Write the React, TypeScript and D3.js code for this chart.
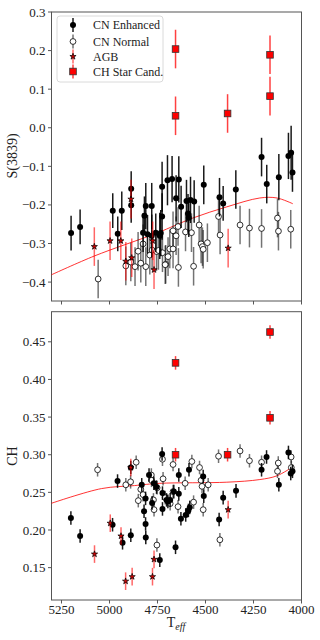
import * as d3 from "d3";

const W = 320;
const H = 640;
const FONT = "'Liberation Serif', 'DejaVu Serif', serif";

// x axis (shared)
const teffTicks = [5250, 5000, 4750, 4500, 4250, 4000];
const teffDomain = [5302, 4000];

// ---- S(3839) panel ----
const sTicks = [-0.4, -0.3, -0.2, -0.1, 0.0, 0.1, 0.2, 0.3];
const sDomain = [-0.449, 0.3];

const enhTeffS = [5200, 5153, 4983, 4936, 4957, 4887, 4887, 4818, 4811, 4780, 4825, 4802, 4780, 4759, 4738, 4726, 4698, 4726, 4733, 4674, 4639, 4653, 4627, 4599, 4578, 4559, 4587, 4591, 4509, 4427, 4408, 4342, 4208, 4181, 4118, 4068, 4054, 4047];
const enhS = [-0.273, -0.257, -0.215, -0.215, -0.275, -0.158, -0.201, -0.228, -0.203, -0.203, -0.272, -0.276, -0.28, -0.272, -0.28, -0.153, -0.136, -0.23, -0.273, -0.133, -0.134, -0.183, -0.205, -0.19, -0.187, -0.191, -0.233, -0.222, -0.148, -0.18, -0.196, -0.16, -0.076, -0.146, -0.128, -0.073, -0.065, -0.116];
const enhSErr = [0.045, 0.045, 0.045, 0.05, 0.045, 0.045, 0.045, 0.05, 0.06, 0.06, 0.05, 0.05, 0.055, 0.05, 0.06, 0.065, 0.065, 0.06, 0.06, 0.06, 0.06, 0.06, 0.055, 0.055, 0.06, 0.055, 0.05, 0.05, 0.05, 0.05, 0.045, 0.05, 0.05, 0.05, 0.06, 0.06, 0.07, 0.05];

const norTeffS = [5059, 4915, 4889, 4867, 4851, 4837, 4825, 4811, 4790, 4778, 4755, 4745, 4724, 4707, 4695, 4686, 4669, 4710, 4641, 4562, 4669, 4653, 4643, 4604, 4573, 4533, 4523, 4516, 4512, 4490, 4432, 4424, 4320, 4271, 4208, 4125, 4120, 4056];
const norS = [-0.392, -0.358, -0.348, -0.36, -0.32, -0.351, -0.301, -0.36, -0.33, -0.317, -0.321, -0.318, -0.324, -0.354, -0.334, -0.314, -0.314, -0.355, -0.362, -0.359, -0.267, -0.28, -0.256, -0.27, -0.272, -0.252, -0.301, -0.308, -0.315, -0.298, -0.23, -0.278, -0.252, -0.26, -0.261, -0.234, -0.268, -0.263];
const norSErr = 0.05;

const agbTeffS = [5079, 4997, 4941, 4915, 4884, 4888, 4775, 4768, 4382];
const agbS = [-0.308, -0.293, -0.293, -0.346, -0.337, -0.185, -0.293, -0.368, -0.312];
const agbSErr = 0.05;

const chTeffS = [4656, 4656, 4385, 4164, 4164];
const chS = [0.204, 0.031, 0.037, 0.189, 0.082];
const chSErr = 0.05;

const fitTeffS = [5302, 5077, 4790, 4738, 4566, 4389, 4217, 4128, 4045];
const fitS = [-0.381, -0.332, -0.28, -0.27, -0.234, -0.205, -0.182, -0.182, -0.197];

// ---- CH panel ----
const cTicks = [0.15, 0.2, 0.25, 0.3, 0.35, 0.4, 0.45];
const cDomain = [0.107, 0.49];

const enhTeffC = [5201, 5153, 4958, 4889, 4984, 4932, 4889, 4832, 4812, 4778, 4820, 4812, 4811, 4794, 4769, 4755, 4724, 4738, 4703, 4724, 4726, 4696, 4684, 4665, 4639, 4639, 4628, 4603, 4589, 4582, 4586, 4509, 4512, 4656, 4429, 4408, 4341, 4208, 4118, 4056, 4047, 4182, 4068];
const enhC = [0.216, 0.192, 0.265, 0.283, 0.207, 0.183, 0.193, 0.26, 0.242, 0.236, 0.225, 0.208, 0.19, 0.273, 0.262, 0.257, 0.228, 0.16, 0.24, 0.249, 0.301, 0.238, 0.24, 0.251, 0.273, 0.248, 0.215, 0.22, 0.226, 0.23, 0.28, 0.245, 0.271, 0.177, 0.214, 0.243, 0.252, 0.28, 0.26, 0.275, 0.278, 0.297, 0.303];

const norTeffC = [5062, 4915, 4890, 4861, 4837, 4825, 4850, 4782, 4781, 4771, 4768, 4753, 4752, 4724, 4710, 4721, 4669, 4643, 4684, 4606, 4562, 4571, 4531, 4523, 4518, 4512, 4486, 4425, 4432, 4320, 4271, 4208, 4125, 4121, 4053, 4054, 4669];
const norC = [0.28, 0.26, 0.264, 0.29, 0.254, 0.247, 0.239, 0.273, 0.266, 0.24, 0.227, 0.18, 0.256, 0.294, 0.243, 0.268, 0.251, 0.231, 0.235, 0.262, 0.237, 0.291, 0.283, 0.266, 0.258, 0.227, 0.26, 0.187, 0.298, 0.305, 0.292, 0.29, 0.278, 0.289, 0.283, 0.297, 0.287];

const agbTeffC = [5078, 4996, 4940, 4916, 4882, 4889, 4776, 4768, 4382];
const agbC = [0.168, 0.209, 0.192, 0.132, 0.138, 0.283, 0.138, 0.161, 0.227];

const chTeffC = [4656, 4164, 4164, 4656, 4385];
const chC = [0.422, 0.463, 0.349, 0.3, 0.3];

const cErr = 0.009;

const fitTeffC = [5302, 5042, 4870, 4738, 4389, 4217, 4128, 4045];
const fitC = [0.2355, 0.255, 0.259, 0.262, 0.2635, 0.267, 0.272, 0.284];

const legendLabels = ["CN Enhanced", "CN Normal", "AGB", "CH Star Cand."];

const x = d3.scaleLinear().domain(teffDomain).range([51.5, 301.5]);

const starPath = d3.symbol().type(d3.symbolStar).size(12)() as string;

type Kind = "enh" | "nor" | "agb" | "ch";

const barStyle: Record<Kind, { stroke: string; opacity: number }> = {
  enh: { stroke: "#000", opacity: 0.9 },
  nor: { stroke: "#000", opacity: 0.55 },
  agb: { stroke: "#ff0000", opacity: 0.6 },
  ch: { stroke: "#ff0000", opacity: 0.75 },
};

function Marker({ kind, cx, cy }: { kind: Kind; cx: number; cy: number }) {
  if (kind === "enh") return <circle cx={cx} cy={cy} r={3} fill="#000" />;
  if (kind === "nor")
    return <circle cx={cx} cy={cy} r={2.9} fill="#fff" stroke="#000" strokeWidth={0.8} />;
  if (kind === "agb")
    return <path d={starPath} transform={`translate(${cx},${cy})`} fill="#d00000" stroke="#000" strokeWidth={0.7} />;
  return <rect x={cx - 3.3} y={cy - 3.3} width={6.6} height={6.6} fill="#ff0000" stroke="#333" strokeWidth={0.8} />;
}

function Series({ kind, xs, ys, err, y }: { kind: Kind; xs: number[]; ys: number[]; err: number | number[]; y: d3.ScaleLinear<number, number> }) {
  const st = barStyle[kind];
  return (
    <g>
      {xs.map((t, i) => {
        const e = typeof err === "number" ? err : err[i];
        return (
          <line key={"b" + i} x1={x(t)} x2={x(t)} y1={y(ys[i] - e)} y2={y(ys[i] + e)} stroke={st.stroke} strokeOpacity={st.opacity} strokeWidth={1.5} />
        );
      })}
      {xs.map((t, i) => (
        <Marker key={"m" + i} kind={kind} cx={x(t)} cy={y(ys[i])} />
      ))}
    </g>
  );
}

function Axes({ y, yTicks, fmt, top, bottom, showX }: { y: d3.ScaleLinear<number, number>; yTicks: number[]; fmt: (v: number) => string; top: number; bottom: number; showX: boolean }) {
  const [x0, x1] = x.range();
  return (
    <g fontFamily={FONT} fontSize={13} fill="#222">
      <rect x={x0} y={top} width={x1 - x0} height={bottom - top} fill="none" stroke="#555" strokeWidth={1} />
      {yTicks.map((v) => (
        <g key={v}>
          <line x1={x0 - 3.5} x2={x0} y1={y(v)} y2={y(v)} stroke="#555" />
          <text x={x0 - 6} y={y(v)} dy="0.35em" textAnchor="end">
            {fmt(v)}
          </text>
        </g>
      ))}
      {teffTicks.map((t) => (
        <g key={t}>
          <line x1={x(t)} x2={x(t)} y1={bottom} y2={bottom + 3.5} stroke="#555" />
          {showX && (
            <text x={x(t)} y={bottom + 14} textAnchor="middle">
              {t}
            </text>
          )}
        </g>
      ))}
    </g>
  );
}

const fmtS = (v: number) => (v < 0 ? "\u2212" : "") + Math.abs(v).toFixed(1);
const fmtC = (v: number) => v.toFixed(2);

export default function App() {
  const yS = d3.scaleLinear().domain(sDomain).range([301, 12]);
  const yC = d3.scaleLinear().domain(cDomain).range([600, 311.7]);

  const line = (ys: d3.ScaleLinear<number, number>) =>
    d3
      .line<[number, number]>()
      .x((d) => x(d[0]))
      .y((d) => ys(d[1]))
      .curve(d3.curveCatmullRom);

  const fitTop = line(yS)(fitTeffS.map((t, i) => [t, fitS[i]] as [number, number])) as string;
  const fitBot = line(yC)(fitTeffC.map((t, i) => [t, fitC[i]] as [number, number])) as string;

  const kinds: Kind[] = ["enh", "nor", "agb", "ch"];
  const legendY = [25, 41.5, 56.5, 71.5];

  return (
    <svg width={W} height={H} style={{ position: "absolute", left: 0, top: 0, background: "#fff" }}>
      {/* top panel */}
      <Axes y={yS} yTicks={sTicks} fmt={fmtS} top={12} bottom={301} showX={false} />
      <path d={fitTop} fill="none" stroke="#ff0000" strokeOpacity={0.8} strokeWidth={1} />
      <Series kind="nor" xs={norTeffS} ys={norS} err={norSErr} y={yS} />
      <Series kind="enh" xs={enhTeffS} ys={enhS} err={enhSErr} y={yS} />
      <Series kind="agb" xs={agbTeffS} ys={agbS} err={agbSErr} y={yS} />
      <Series kind="ch" xs={chTeffS} ys={chS} err={chSErr} y={yS} />
      <text transform="translate(17,156) rotate(-90)" textAnchor="middle" fontFamily={FONT} fontSize={14} fill="#222">
        S(3839)
      </text>

      {/* legend */}
      <rect x={57} y={16} width={106} height={66} rx={3} fill="#fff" fillOpacity={0.8} stroke="#d0d0d0" strokeWidth={0.8} />
      {kinds.map((k, i) => (
        <g key={k}>
          <line x1={73} x2={73} y1={legendY[i] - 7} y2={legendY[i] + 7} stroke={barStyle[k].stroke} strokeOpacity={barStyle[k].opacity} strokeWidth={1.5} />
          <Marker kind={k} cx={73} cy={legendY[i]} />
          <text x={93} y={legendY[i]} dy="0.35em" fontFamily={FONT} fontSize={12} fill="#222">
            {legendLabels[i]}
          </text>
        </g>
      ))}

      {/* bottom panel */}
      <Axes y={yC} yTicks={cTicks} fmt={fmtC} top={311.7} bottom={600} showX={true} />
      <path d={fitBot} fill="none" stroke="#ff0000" strokeOpacity={0.8} strokeWidth={1} />
      <Series kind="nor" xs={norTeffC} ys={norC} err={cErr} y={yC} />
      <Series kind="enh" xs={enhTeffC} ys={enhC} err={cErr} y={yC} />
      <Series kind="agb" xs={agbTeffC} ys={agbC} err={cErr * 1.3} y={yC} />
      <Series kind="ch" xs={chTeffC} ys={chC} err={cErr} y={yC} />
      <text transform="translate(17,456) rotate(-90)" textAnchor="middle" fontFamily={FONT} fontSize={14} fill="#222">
        CH
      </text>
      <text x={176} y={627} textAnchor="middle" fontFamily={FONT} fontSize={14} fill="#222">
        <tspan>T</tspan>
        <tspan fontSize={10} fontStyle="italic" dy={3}>
          eff
        </tspan>
      </text>
    </svg>
  );
}
